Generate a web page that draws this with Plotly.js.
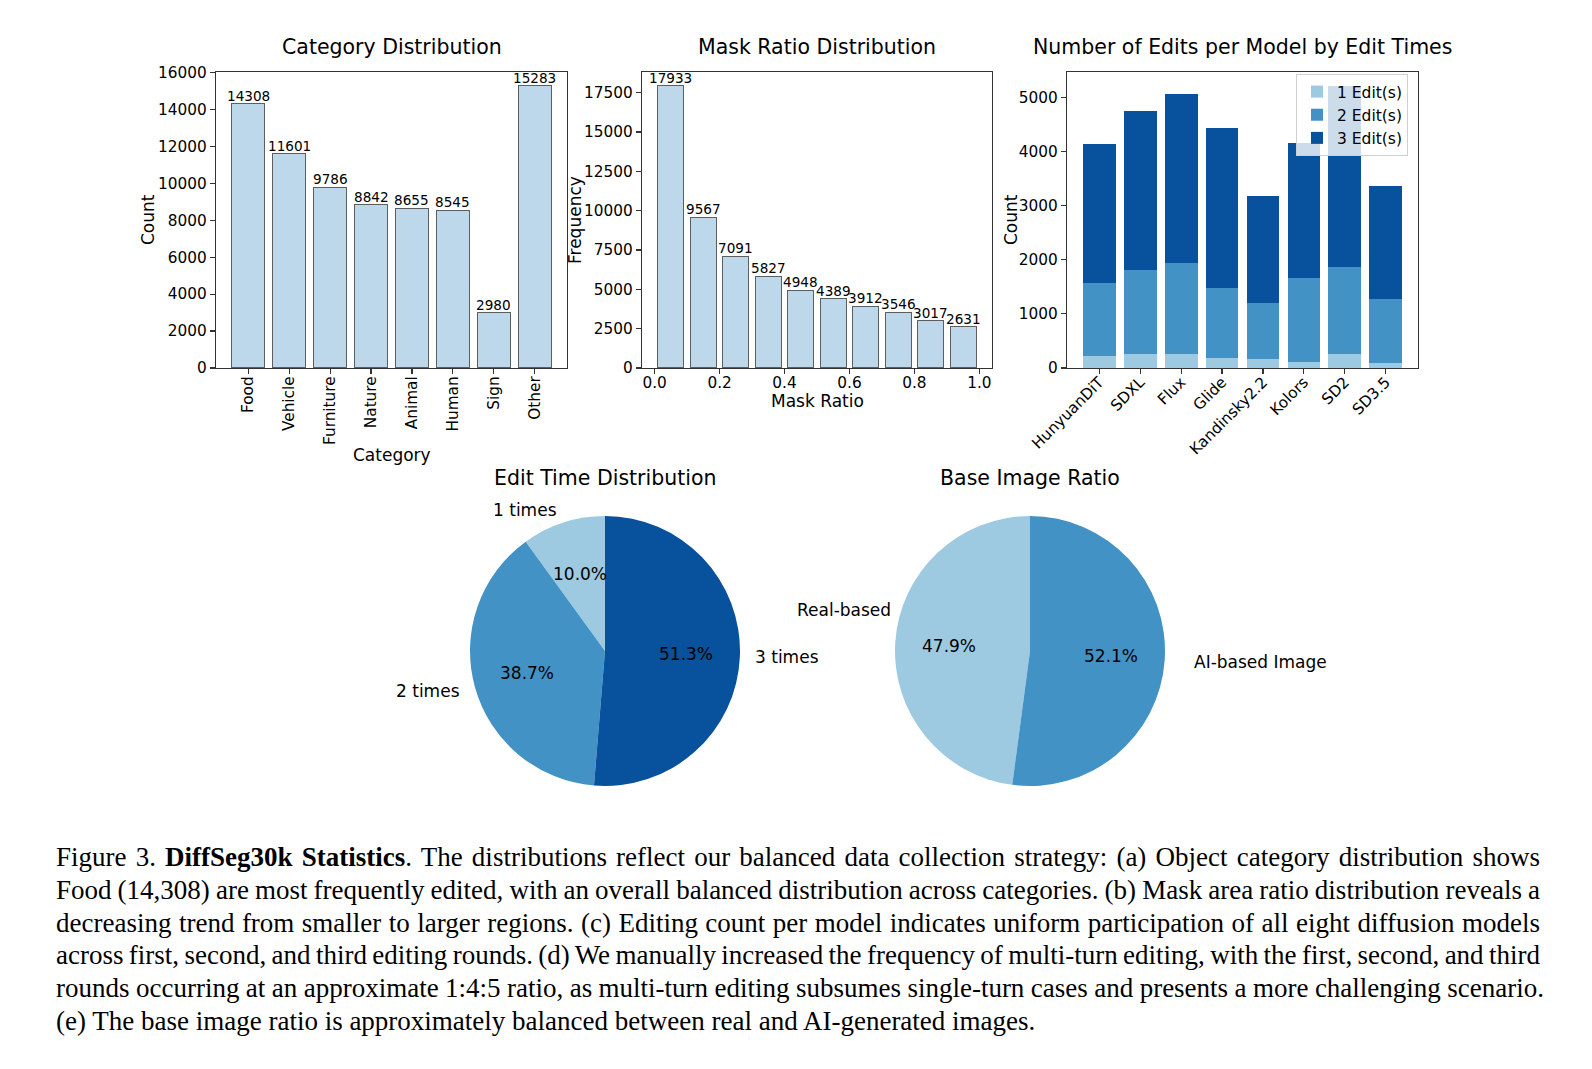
<!DOCTYPE html>
<html><head><meta charset="utf-8">
<script src="https://cdn.plot.ly/plotly-3.0.1.min.js"></script>
<style>
html,body{margin:0;padding:0;background:#fff;}
#chart{position:absolute;left:0;top:0;width:1592px;height:1069px;}
#caption{position:absolute;left:56px;top:841px;width:1500px;font-family:"Liberation Serif","Times New Roman",serif;font-size:27px;line-height:32.8px;color:#000;}
#caption div{white-space:nowrap;}
</style></head><body>
<div id="chart"></div>
<div id="caption"></div>
<script>
// ---------------- data ----------------
const categories = ['Food','Vehicle','Furniture','Nature','Animal','Human','Sign','Other'];
const categoryCounts = [14308,11601,9786,8842,8655,8545,2980,15283];

const maskRatioBins = [0.05,0.15,0.25,0.35,0.45,0.55,0.65,0.75,0.85,0.95];
const maskRatioFreq = [17933,9567,7091,5827,4948,4389,3912,3546,3017,2631];

const models = ['HunyuanDiT','SDXL','Flux','Glide','Kandinsky2.2','Kolors','SD2','SD3.5'];
const edits1 = [227,264,252,190,172,117,258,92];
const edits2 = [1344,1546,1687,1289,1030,1546,1607,1190];
const edits3 = [2576,2938,3116,2963,1970,2503,3350,2080];
const editSeriesNames = ['1 Edit(s)','2 Edit(s)','3 Edit(s)'];

const editTimeLabels = ['1 times','2 times','3 times'];
const editTimePct = [10.0,38.7,51.3];
const baseLabels = ['Real-based','AI-based Image'];
const basePct = [47.9,52.1];

const captionLines = [
  'Figure 3. <b>DiffSeg30k Statistics</b>. The distributions reflect our balanced data collection strategy: (a) Object category distribution shows',
  'Food (14,308) are most frequently edited, with an overall balanced distribution across categories. (b) Mask area ratio distribution reveals a',
  'decreasing trend from smaller to larger regions. (c) Editing count per model indicates uniform participation of all eight diffusion models',
  'across first, second, and third editing rounds. (d) We manually increased the frequency of multi-turn editing, with the first, second, and third',
  'rounds occurring at an approximate 1:4:5 ratio, as multi-turn editing subsumes single-turn cases and presents a more challenging scenario.',
  '(e) The base image ratio is approximately balanced between real and AI-generated images.'
];

// ---------------- style / layout helpers ----------------
const W = 1592, H = 1069;
const X = p => p / W;
const Y = p => 1 - p / H;
const FONT = 'DejaVu Sans, Verdana, sans-serif';
const lightBar = '#bcd8ea';
const blues = ['#9ecae1','#4292c6','#08519c'];
const TICK = 15.3, TITLE = 20.5, LABEL = 17, BARLBL = 13.6;

function axisStyle(extra){
  return Object.assign({
    showline:true, mirror:true, linecolor:'#333', linewidth:1.2,
    ticks:'outside', ticklen:5, tickwidth:1.2, tickcolor:'#333',
    showgrid:false, zeroline:false,
    tickfont:{family:FONT,size:TICK,color:'#000'},
    fixedrange:true
  }, extra);
}

const traces = [
  {type:'bar', x:categories, y:categoryCounts, xaxis:'x', yaxis:'y', width:0.8,
   marker:{color:lightBar, line:{color:'#5e5e5e', width:1}}, showlegend:false},
  {type:'bar', x:maskRatioBins, y:maskRatioFreq, xaxis:'x2', yaxis:'y2', width:0.08,
   marker:{color:lightBar, line:{color:'#5e5e5e', width:1}}, showlegend:false}
];
[edits1, edits2, edits3].forEach((vals, i) => {
  traces.push({type:'bar', x:models, y:vals, xaxis:'x3', yaxis:'y3', width:0.8,
    name:editSeriesNames[i], marker:{color:blues[i], line:{width:0}}});
});

const pie1 = {cx:605, cy:651, r:135};
const pie2 = {cx:1030, cy:651, r:135};
function pieDomain(p){
  return {x:[X(p.cx - p.r), X(p.cx + p.r)], y:[Y(p.cy + p.r), Y(p.cy - p.r)]};
}
const sum = a => a.reduce((s,v)=>s+v,0);
// matplotlib style: first slice starts at 12 o'clock, going counter-clockwise
traces.push({type:'pie', labels:editTimeLabels, values:editTimePct, sort:false,
  direction:'counterclockwise', rotation:-360*editTimePct[0]/sum(editTimePct), domain:pieDomain(pie1),
  marker:{colors:blues, line:{width:0}}, textinfo:'none', showlegend:false});
traces.push({type:'pie', labels:baseLabels, values:basePct, sort:false,
  direction:'counterclockwise', rotation:-360*basePct[0]/sum(basePct), domain:pieDomain(pie2),
  marker:{colors:[blues[0], blues[1]], line:{width:0}}, textinfo:'none', showlegend:false});

const annotations = [];
function txt(text, px, py, size, opts){
  annotations.push(Object.assign({text:text, xref:'paper', yref:'paper', x:X(px), y:Y(py),
    showarrow:false, xanchor:'center', yanchor:'middle',
    font:{family:FONT, size:size, color:'#000'}}, opts||{}));
}
// bar value labels (data coordinates)
function barLabels(xs, ys, xr, yr){
  xs.forEach((x, i) => annotations.push({text:String(ys[i]), x:x, y:ys[i], xref:xr, yref:yr,
    showarrow:false, xanchor:'center', yanchor:'bottom', yshift:-2,
    font:{family:FONT, size:BARLBL, color:'#000'}}));
}
barLabels(categories, categoryCounts, 'x', 'y');
barLabels(maskRatioBins, maskRatioFreq, 'x2', 'y2');

// subplot titles
txt('Category Distribution', 391.5, 46.5, TITLE);
txt('Mask Ratio Distribution', 817, 46.5, TITLE);
txt('Number of Edits per Model by Edit Times', 1242.5, 46.5, TITLE);
txt('Edit Time Distribution', 605, 477.5, TITLE);
txt('Base Image Ratio', 1030, 477.5, TITLE);
// axis titles
txt('Category', 391.5, 455, LABEL);
txt('Count', 148, 220, LABEL, {textangle:-90});
txt('Mask Ratio', 817, 401, LABEL);
txt('Frequency', 575, 220, LABEL, {textangle:-90});
txt('Count', 1011, 220, LABEL, {textangle:-90});

// pie labels (label distance / pct distance as in the reference)
function pieLabels(p, labels, vals, labelDist, nudges){
  const total = sum(vals);
  let cum = 0;
  labels.forEach((lab, i) => {
    const mid = (90 + 360 * (cum + vals[i]/2) / total) * Math.PI / 180;
    cum += vals[i];
    const c = Math.cos(mid), s = Math.sin(mid);
    const n = (nudges && nudges[i]) || [0,0];
    txt(lab, p.cx + labelDist*p.r*c + n[0], p.cy - labelDist*p.r*s + n[1], 17, {xanchor: c > 0 ? 'left' : 'right'});
    txt((vals[i]/total*100).toFixed(1) + '%', p.cx + 0.6*p.r*c, p.cy - 0.6*p.r*s, 17);
  });
}
pieLabels(pie1, editTimeLabels, editTimePct, 1.1);
pieLabels(pie2, baseLabels, basePct, 1.2, [[25,-30],[0,0]]);

const yTop = Y(71.7), yBot = Y(368);
const layout = {
  width:W, height:H, margin:{l:0,r:0,t:0,b:0},
  paper_bgcolor:'#fff', plot_bgcolor:'#fff',
  barmode:'stack', bargap:0.2,
  font:{family:FONT, color:'#000'},
  xaxis: axisStyle({domain:[X(216), X(567)], anchor:'y', range:[-0.79, 7.79], tickangle:-90, type:'category', ticklabelstandoff:-4}),
  yaxis: axisStyle({domain:[yBot, yTop], anchor:'x', range:[0, 16047], dtick:2000, tick0:0, tickformat:'d'}),
  xaxis2: axisStyle({domain:[X(642), X(992)], anchor:'y2', range:[-0.039, 1.039], dtick:0.2, tick0:0, tickformat:'.1f', ticklabelstandoff:-5}),
  yaxis2: axisStyle({domain:[yBot, yTop], anchor:'x2', range:[0, 18830], dtick:2500, tick0:0, tickformat:'d'}),
  xaxis3: axisStyle({domain:[X(1067), X(1418)], anchor:'y3', range:[-0.79, 7.79], tickangle:-45, type:'category', ticklabelstandoff:-7}),
  yaxis3: axisStyle({domain:[yBot, yTop], anchor:'x3', range:[0, 5476], dtick:1000, tick0:0, tickformat:'d'}),
  showlegend:true,
  legend:{x:X(1408), xanchor:'right', y:Y(74), yanchor:'top', traceorder:'normal',
    bgcolor:'rgba(255,255,255,0.8)', bordercolor:'#d0d0d0', borderwidth:1,
    font:{family:FONT, size:15.5, color:'#000'}, tracegroupgap:0},
  annotations:annotations
};

Plotly.newPlot('chart', traces, layout, {displayModeBar:false, staticPlot:true});

// ---------------- caption (justified lines) ----------------
const cap = document.getElementById('caption');
const targets = [1484,1484,1484,1484,1488,null];
const spans = captionLines.map(l => {
  const d = document.createElement('div');
  const s = document.createElement('span');
  s.innerHTML = l;
  d.appendChild(s); cap.appendChild(d);
  return s;
});
function justify(){
  spans.forEach((s, i) => {
    s.style.wordSpacing = '0px';
    if (targets[i] == null) return;
    const nat = s.getBoundingClientRect().width;
    const nSpaces = (s.textContent.match(/ /g) || []).length;
    if (nSpaces > 0) s.style.wordSpacing = ((targets[i] - nat) / nSpaces) + 'px';
  });
}
justify();
if (document.fonts && document.fonts.ready) document.fonts.ready.then(justify);
</script>
</body></html>
